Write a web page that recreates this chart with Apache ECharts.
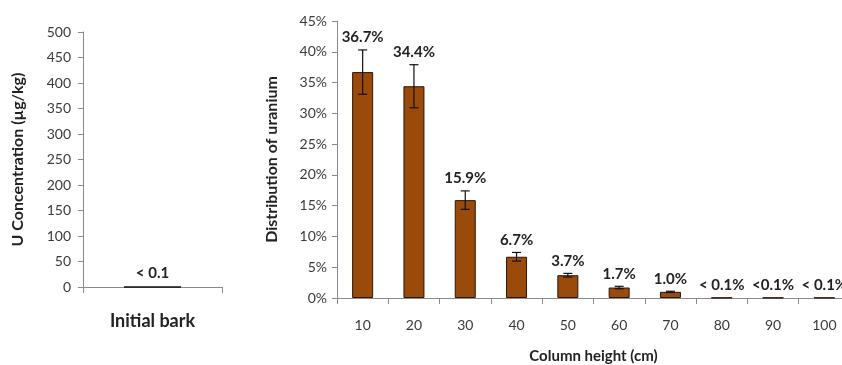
<!DOCTYPE html>
<html>
<head>
<meta charset="utf-8">
<script src="https://cdn.jsdelivr.net/npm/echarts@6/dist/echarts.min.js"></script>
<style>
  html, body { margin: 0; padding: 0; background: #fff; }
  #chart { width: 842px; height: 365px; }
</style>
</head>
<body>
<div id="chart"></div>
<script>
// Initial bark concentration (µg/kg)
const barkCategories = ['Initial bark'];
const barkValues = [0.05];
const barkLabels = ['< 0.1'];
const barkTicks = [0, 50, 100, 150, 200, 250, 300, 350, 400, 450, 500];

// Uranium distribution along the column (%)
const heights = ['10', '20', '30', '40', '50', '60', '70', '80', '90', '100'];
const distribution = [36.7, 34.4, 15.9, 6.7, 3.7, 1.7, 1.0, 0.05, 0.05, 0.05];
const distErrors = [3.6, 3.5, 1.5, 0.7, 0.3, 0.2, 0.1, 0, 0, 0];
const distLabels = ['36.7%', '34.4%', '15.9%', '6.7%', '3.7%', '1.7%', '1.0%', '< 0.1%', '<0.1%', '< 0.1%'];

const FONT = 'Lato, "Open Sans", sans-serif';
const AXIS_GREY = '#8a8a8a';
const TEXT = '#3a3a3a';
const BROWN = '#9a4a0b';

const chart = echarts.init(document.getElementById('chart'));

// whiskers plus value label above each column
function renderError(params, api) {
  const idx = params.dataIndex;
  const v = api.value(1);
  const e = api.value(2);
  const x = api.coord([api.value(0), v])[0];
  const top = api.coord([api.value(0), v + e])[1];
  const bot = api.coord([api.value(0), v - e])[1];
  const half = 4.5;
  const children = [];
  if (e > 0) {
    const style = { stroke: '#111', lineWidth: 1.2 };
    children.push({ type: 'line', shape: { x1: x, y1: top, x2: x, y2: bot }, style });
    children.push({ type: 'line', shape: { x1: x - half, y1: top, x2: x + half, y2: top }, style });
    children.push({ type: 'line', shape: { x1: x - half, y1: bot, x2: x + half, y2: bot }, style });
  }
  children.push({
    type: 'text',
    style: {
      x: x, y: top - 5,
      text: distLabels[idx],
      fill: '#222',
      font: 'bold 15px ' + FONT,
      align: 'center',
      verticalAlign: 'bottom'
    }
  });
  return { type: 'group', children };
}

const option = {
  animation: false,
  grid: [
    { left: 83, top: 32, width: 139, height: 255, outerBoundsMode: 'none', containLabel: false },
    { left: 337, top: 21, width: 513, height: 277, outerBoundsMode: 'none', containLabel: false }
  ],
  xAxis: [
    {
      gridIndex: 0, type: 'category', data: barkCategories,
      axisLine: { lineStyle: { color: AXIS_GREY } },
      axisTick: { show: true, length: 6, lineStyle: { color: AXIS_GREY } },
      axisLabel: { color: '#222', fontFamily: FONT, fontSize: 18, fontWeight: 'bold', margin: 25 }
    },
    {
      gridIndex: 1, type: 'category', data: heights,
      name: 'Column height (cm)', nameLocation: 'middle', nameGap: 51,
      nameTextStyle: { color: '#222', fontFamily: FONT, fontSize: 15, fontWeight: 'bold' },
      axisLine: { lineStyle: { color: AXIS_GREY } },
      axisTick: { show: true, length: 6, lineStyle: { color: AXIS_GREY } },
      axisLabel: { color: TEXT, fontFamily: FONT, fontSize: 14, margin: 20 }
    }
  ],
  yAxis: [
    {
      gridIndex: 0, type: 'value', min: 0, max: 500, interval: 50,
      name: 'U Concentration (µg/kg)', nameLocation: 'middle', nameGap: 57,
      nameTextStyle: { color: '#222', fontFamily: FONT, fontSize: 16, fontWeight: 'bold' },
      axisLine: { show: true, lineStyle: { color: AXIS_GREY } },
      axisTick: { show: true, length: 5, lineStyle: { color: AXIS_GREY } },
      axisLabel: {
        color: TEXT, fontFamily: FONT, fontSize: 14, margin: 12,
        formatter: v => barkTicks.includes(v) ? String(v) : ''
      },
      splitLine: { show: false }
    },
    {
      gridIndex: 1, type: 'value', min: 0, max: 45, interval: 5,
      name: 'Distribution of uranium', nameLocation: 'middle', nameGap: 57,
      nameTextStyle: { color: '#222', fontFamily: FONT, fontSize: 16, fontWeight: 'bold' },
      axisLine: { show: true, lineStyle: { color: AXIS_GREY } },
      axisTick: { show: true, length: 5, lineStyle: { color: AXIS_GREY } },
      axisLabel: { color: TEXT, fontFamily: FONT, fontSize: 14, margin: 10, formatter: v => v + '%' },
      splitLine: { show: false }
    }
  ],
  series: [
    {
      type: 'bar', xAxisIndex: 0, yAxisIndex: 0, data: barkValues,
      barWidth: 57,
      itemStyle: { color: '#111', borderColor: '#111', borderWidth: 1.5 },
      label: {
        show: true, position: 'top', distance: 6,
        formatter: p => barkLabels[p.dataIndex],
        color: '#222', fontFamily: FONT, fontSize: 15, fontWeight: 'bold'
      }
    },
    {
      type: 'bar', xAxisIndex: 1, yAxisIndex: 1, data: distribution,
      barWidth: 21,
      itemStyle: { color: BROWN, borderColor: '#2a1606', borderWidth: 1 }
    },
    {
      type: 'custom', xAxisIndex: 1, yAxisIndex: 1,
      renderItem: renderError,
      data: heights.map((h, i) => [i, distribution[i], distErrors[i]]),
      z: 10
    }
  ]
};

chart.setOption(option);
</script>
</body>
</html>
